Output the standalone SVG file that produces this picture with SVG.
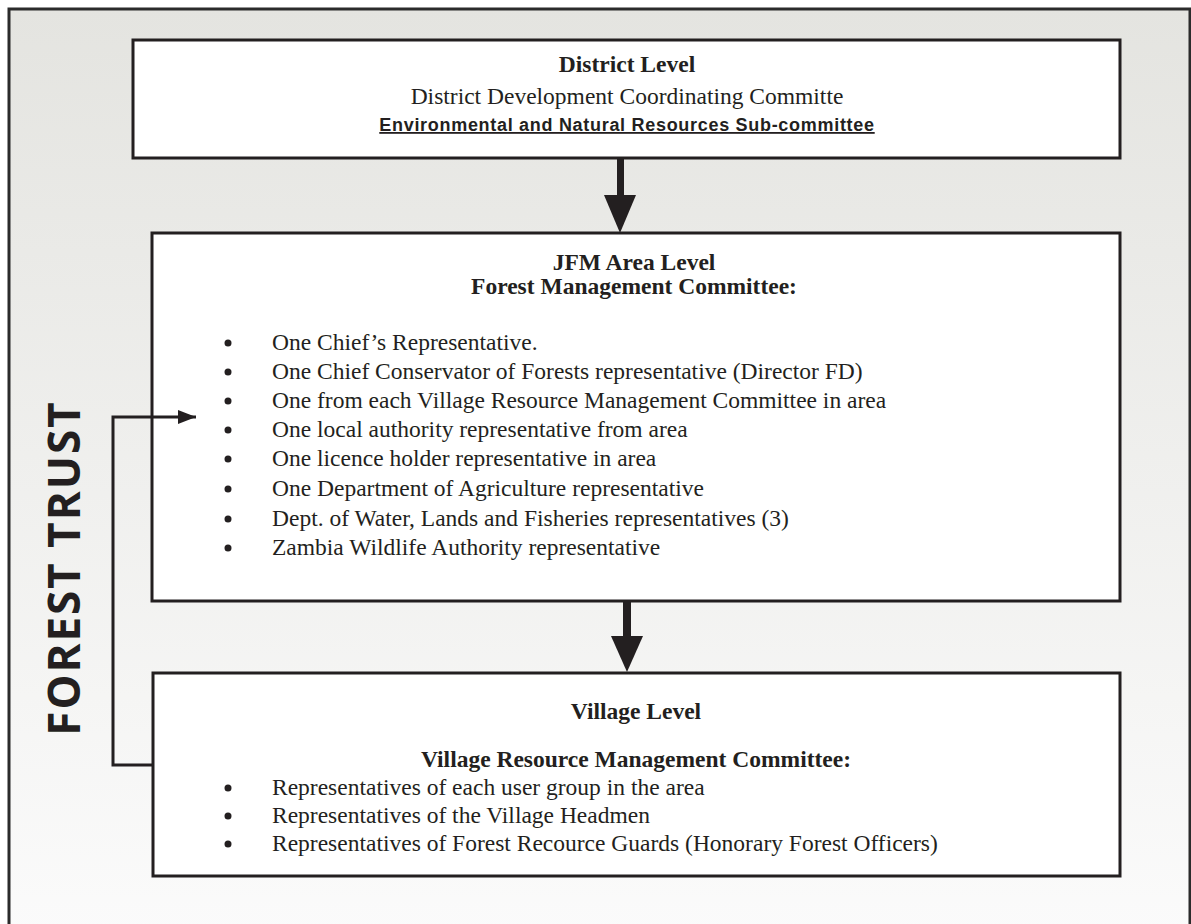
<svg xmlns="http://www.w3.org/2000/svg" width="1191" height="924" viewBox="0 0 1191 924">
<defs>
<linearGradient id="bg" x1="0" y1="0" x2="0" y2="1">
<stop offset="0" stop-color="#e4e4e0"/>
<stop offset="1" stop-color="#fbfbfb"/>
</linearGradient>
<marker id="thin" viewBox="0 0 18 14" refX="18" refY="7" markerWidth="18" markerHeight="14" markerUnits="userSpaceOnUse" orient="auto">
<path d="M0,0 L18,7 L0,14 Z" fill="#231f20"/>
</marker>
<style>
.box{fill:#fff;stroke:#231f20;stroke-width:3}
.t{font-family:"Liberation Serif","Times New Roman",serif;font-size:23.5px;fill:#231f20}
.b{font-weight:bold}
.c{text-anchor:middle}
.dot{fill:#231f20}
.ln{fill:none;stroke:#231f20;stroke-width:3}
</style>
</defs>
<rect x="9" y="9" width="1181" height="930" fill="url(#bg)" stroke="#2b2b2b" stroke-width="3"/>
<text x="80" y="568" transform="rotate(-90 80 568)" text-anchor="middle" font-family="'Open Sans','Noto Sans',sans-serif" font-weight="bold" font-size="44" letter-spacing="2" fill="#231f20">FOREST TRUST</text>

<g id="district">
<rect class="box" x="133" y="40" width="987" height="118"/>
<text class="t b c" x="627" y="72">District Level</text>
<text class="t c" x="627" y="104">District Development Coordinating Committe</text>
<text x="627" y="131" text-anchor="middle" font-family="'Liberation Sans',Arial,sans-serif" font-weight="bold" font-size="18" letter-spacing="0.7" text-decoration="underline" fill="#231f20">Environmental and Natural Resources Sub-committee</text>
</g>

<g id="jfm">
<rect class="box" x="152" y="233" width="968" height="368"/>
<text class="t b c" x="634" y="270">JFM Area Level</text>
<text class="t b c" x="634" y="294">Forest Management Committee:</text>
<circle class="dot" cx="228" cy="343" r="3.5"/><text class="t" x="272" y="350">One Chief’s Representative.</text>
<circle class="dot" cx="228" cy="372" r="3.5"/><text class="t" x="272" y="379">One Chief Conservator of Forests representative (Director FD)</text>
<circle class="dot" cx="228" cy="401" r="3.5"/><text class="t" x="272" y="408">One from each Village Resource Management Committee in area</text>
<circle class="dot" cx="228" cy="430" r="3.5"/><text class="t" x="272" y="437">One local authority representative from area</text>
<circle class="dot" cx="228" cy="459" r="3.5"/><text class="t" x="272" y="466">One licence holder representative in area</text>
<circle class="dot" cx="228" cy="489" r="3.5"/><text class="t" x="272" y="496">One Department of Agriculture representative</text>
<circle class="dot" cx="228" cy="519" r="3.5"/><text class="t" x="272" y="526">Dept. of Water, Lands and Fisheries representatives (3)</text>
<circle class="dot" cx="228" cy="548" r="3.5"/><text class="t" x="272" y="555">Zambia Wildlife Authority representative</text>
</g>

<g id="village">
<rect class="box" x="153" y="673" width="967" height="203"/>
<text class="t b c" x="636" y="719">Village Level</text>
<text class="t b c" x="636" y="767">Village Resource Management Committee:</text>
<circle class="dot" cx="228" cy="788" r="3.5"/><text class="t" x="272" y="795">Representatives of each user group in the area</text>
<circle class="dot" cx="228" cy="816" r="3.5"/><text class="t" x="272" y="823">Representatives of the Village Headmen</text>
<circle class="dot" cx="228" cy="844" r="3.5"/><text class="t" x="272" y="851">Representatives of Forest Recource Guards (Honorary Forest Officers)</text>
</g>

<g id="connectors">
<rect x="617" y="158" width="7" height="38" fill="#231f20"/>
<path d="M604,195 L636,195 L620,233 Z" fill="#231f20"/>
<rect x="623" y="601" width="8" height="36" fill="#231f20"/>
<path d="M611,636 L643,636 L627,672 Z" fill="#231f20"/>
<path class="ln" d="M153,765 L113,765 L113,417 L196,417" marker-end="url(#thin)"/>
</g>
</svg>
